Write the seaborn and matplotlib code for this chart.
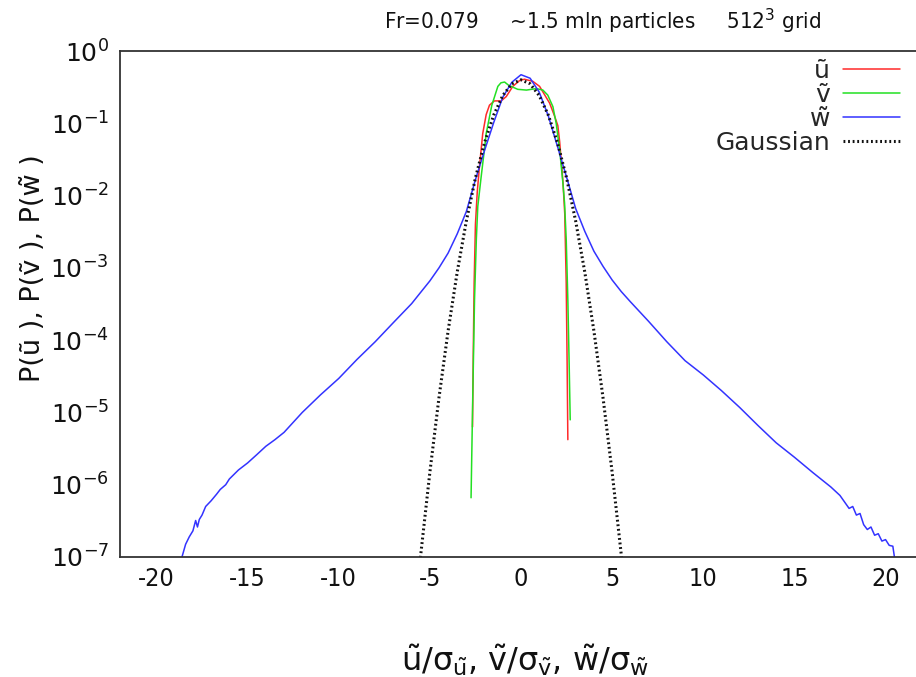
import numpy as np
import pandas as pd
import matplotlib
matplotlib.use("Agg")
import matplotlib.pyplot as plt
import seaborn as sns
from matplotlib import font_manager as fm
from matplotlib.ticker import LogLocator, FixedLocator

# ---------------- data ----------------
w_x = [-18.6, -18.4, -18.2, -18.0, -17.85, -17.75, -17.65, -17.5, -17.3, -17.0, -16.7,
       -16.5, -16.2, -16.0, -15.5, -15.0, -14.5, -14.0, -13.5, -13.0, -12.0, -11.0,
       -10.0, -9.0, -8.0, -7.0, -6.0, -5.5, -5.0, -4.5, -4.0, -3.5, -3.0, -2.5, -2.0, -1.5,
       -1.0, -0.5, 0.0, 0.5, 1.0, 1.5, 2.0, 2.5, 3.0, 3.5, 4.0, 4.5, 5.0, 5.5, 6.0, 7.0,
       8.0, 9.0, 10.0, 11.0, 12.0, 13.0, 14.0, 15.0, 16.0, 17.0, 17.5, 18.0, 18.2,
       18.4, 18.6, 18.8, 19.0, 19.2, 19.4, 19.6, 19.8, 20.0, 20.2, 20.4, 20.5, 21.0]
w_y = [1.0e-7, 1.5e-7, 1.9e-7, 2.3e-7, 3.2e-7, 2.6e-7, 3.3e-7, 3.8e-7, 5.0e-7, 6.0e-7, 7.4e-7,
       8.6e-7, 1.0e-6, 1.2e-6, 1.6e-6, 2.0e-6, 2.6e-6, 3.4e-6, 4.2e-6, 5.3e-6, 1.0e-5, 1.75e-5,
       2.95e-5, 5.4e-5, 9.5e-5, 1.75e-4, 3.2e-4, 4.6e-4, 6.6e-4, 1.0e-3, 1.6e-3, 2.95e-3, 6.0e-3, 1.66e-2, 4.2e-2, 0.102,
       0.23, 0.37, 0.47, 0.42, 0.27, 0.126, 0.048, 0.018, 6.6e-3, 3.2e-3, 1.7e-3, 1.05e-3, 6.8e-4, 4.7e-4, 3.4e-4, 1.82e-4,
       9.5e-5, 5.2e-5, 3.3e-5, 2.0e-5, 1.17e-5, 6.6e-6, 3.8e-6, 2.4e-6, 1.48e-6, 9.3e-7, 7.1e-7, 4.7e-7, 5.0e-7,
       3.8e-7, 4.0e-7, 2.8e-7, 2.4e-7, 2.6e-7, 2.0e-7, 2.1e-7, 1.66e-7, 1.74e-7, 1.45e-7, 1.41e-7, 0.95e-7, 0.95e-7]

u_x = [-2.66, -2.62, -2.57, -2.50, -2.40, -2.28, -2.10, -1.91, -1.73, -1.46, -1.09, -0.81,
       -0.45, -0.08, 0.19, 0.65, 1.02, 1.57, 1.84, 2.02, 2.12, 2.30, 2.40, 2.48, 2.53, 2.57]
u_y = [6.3e-6, 6.3e-5, 6.3e-4, 4.0e-3, 1.12e-2, 2.5e-2, 7.2e-2, 0.132, 0.178, 0.204, 0.204, 0.234,
       0.324, 0.39, 0.407, 0.38, 0.324, 0.19, 0.126, 0.093, 0.056, 0.0158, 5.6e-3, 6.3e-4, 5.0e-5, 4.2e-6]

v_x = [-2.74, -2.65, -2.55, -2.45, -2.37, -2.19, -2.00, -1.91, -1.60, -1.27, -1.10, -0.90,
       -0.70, -0.54, -0.18, 0.30, 0.84, 1.20, 1.47, 1.75, 1.93, 2.12, 2.30, 2.39, 2.48, 2.57,
       2.64, 2.70]
v_y = [6.6e-7, 1.48e-5, 3.6e-4, 2.5e-3, 7.1e-3, 1.78e-2, 4.5e-2, 7.2e-2, 0.178, 0.324, 0.363, 0.372,
       0.339, 0.324, 0.295, 0.288, 0.302, 0.288, 0.245, 0.17, 0.10, 0.043, 0.0148, 7.9e-3, 2.5e-3, 3.6e-4,
       5.0e-5, 7.9e-6]

g_x = [-5.75, -5.5, -5.0, -4.5, -4.0, -3.5, -3.0, -2.5, -2.0, -1.5, -1.0, -0.5, 0.0,
       0.5, 1.0, 1.5, 2.0, 2.5, 3.0, 3.5, 4.0, 4.5, 5.0, 5.5, 5.75]
g_y = [2.65e-8, 1.08e-7, 1.487e-6, 1.60e-5, 1.338e-4, 8.73e-4, 4.432e-3, 1.753e-2, 5.40e-2, 0.1295, 0.242, 0.352, 0.399,
       0.352, 0.242, 0.1295, 5.40e-2, 1.753e-2, 4.432e-3, 8.73e-4, 1.338e-4, 1.60e-5, 1.487e-6, 1.08e-7, 2.65e-8]

x_ticks = [-20, -15, -10, -5, 0, 5, 10, 15, 20]
series_labels = ["\u0169", "\u1e7d", "w\u0303", "Gaussian"]
title_text = "Fr=0.079     ~1.5 mln particles     512$^3$ grid"
x_label = r"$\tilde{u}/\sigma_{\tilde{u}}$, $\tilde{v}/\sigma_{\tilde{v}}$, $\tilde{w}/\sigma_{\tilde{w}}$"
y_label = "P(\u0169 ), P(\u1e7d ), P(w\u0303 )"

# ---------------- style ----------------
sns.set_theme(style="white")
plt.rcParams["font.family"] = ["DejaVu Sans"]
plt.rcParams["mathtext.fontset"] = "custom"
plt.rcParams["mathtext.rm"] = "DejaVu Sans"
plt.rcParams["mathtext.it"] = "DejaVu Sans"
plt.rcParams["mathtext.bf"] = "DejaVu Sans:bold"
plt.rcParams["mathtext.sf"] = "DejaVu Sans"

# condensed face for title / x tick labels, if one is installed
cond_path = None
for pat in ["DejaVuSansCondensed.ttf", "LiberationSansNarrow-Regular.ttf"]:
    for f in fm.fontManager.ttflist:
        if f.fname.endswith(pat):
            cond_path = f.fname
            break
    if cond_path:
        break

fs = 18
if cond_path:
    cond_fp = fm.FontProperties(fname=cond_path, size=fs)
    title_fp = fm.FontProperties(fname=cond_path, size=16)
else:
    cond_fp = fm.FontProperties(family="DejaVu Sans", size=fs - 2)
    title_fp = fm.FontProperties(family="DejaVu Sans", size=14)

W, H = 916, 677
fig = plt.figure(figsize=(W / 100, H / 100), dpi=100)
fig.patch.set_facecolor("white")
ax = fig.add_axes([120 / W, (H - 557) / H, (922 - 120) / W, 506 / H])
ax.set_facecolor("white")

df_u = pd.DataFrame({"x": u_x, "y": u_y})
df_v = pd.DataFrame({"x": v_x, "y": v_y})
df_w = pd.DataFrame({"x": w_x, "y": w_y})
df_g = pd.DataFrame({"x": g_x, "y": g_y})

sns.lineplot(data=df_u, x="x", y="y", ax=ax, color="#ff2a2a", lw=1.1,
             estimator=None, sort=False, label=series_labels[0])
sns.lineplot(data=df_v, x="x", y="y", ax=ax, color="#22e022", lw=1.1,
             estimator=None, sort=False, label=series_labels[1])
sns.lineplot(data=df_w, x="x", y="y", ax=ax, color="#3333ff", lw=1.1,
             estimator=None, sort=False, label=series_labels[2])
sns.lineplot(data=df_g, x="x", y="y", ax=ax, color="#111111", lw=2.2,
             estimator=None, sort=False, label=series_labels[3])
ax.lines[-1].set_linestyle((0, (0.6, 0.9)))
ax.set_xlabel("")
ax.set_ylabel("")

ax.set_yscale("log")
ax.set_xlim(-22, 22)
ax.set_ylim(1e-7, 1e0)

ax.xaxis.set_major_locator(FixedLocator(x_ticks))
ax.set_xticklabels([str(t) for t in x_ticks])
ax.yaxis.set_major_locator(LogLocator(base=10, numticks=20))
ax.yaxis.set_minor_locator(LogLocator(base=10, subs=(2.0, 5.0, 8.0), numticks=20))
ax.xaxis.set_minor_locator(FixedLocator([]))

ax.tick_params(axis="both", which="major", direction="in", length=7.2, width=1.0,
               color="#333333", labelsize=fs, labelcolor="#111111")
ax.tick_params(axis="y", which="minor", direction="in", length=4.3, width=1.0, color="#333333")
ax.tick_params(axis="x", which="major", pad=7)
ax.tick_params(axis="y", which="major", pad=8)
ax.tick_params(top=False, right=False, which="both")
for lab in ax.get_xticklabels():
    lab.set_fontproperties(cond_fp)

for side in ["left", "bottom", "top", "right"]:
    ax.spines[side].set_visible(True)
    ax.spines[side].set_color("#333333")
    ax.spines[side].set_linewidth(1.3)

fig.text(525 / W, 1 - 660 / H, x_label, ha="center", va="center", fontsize=23, color="#111111")
fig.text(33 / W, 1 - 268 / H, y_label, ha="center", va="center", rotation=90,
         fontsize=19.5, color="#111111")

fig.text(602 / W, 1 - 21 / H, title_text, ha="center", va="center",
         fontproperties=title_fp, color="#111111")

leg = ax.legend(loc="upper right", bbox_to_anchor=((915 - 120) / (922 - 120), 1.014),
                frameon=False, markerfirst=False, fontsize=fs, handlelength=2.3,
                handletextpad=0.5, labelspacing=0.0, borderaxespad=0.2)

fig.savefig("out.png", dpi=100, facecolor="white")
